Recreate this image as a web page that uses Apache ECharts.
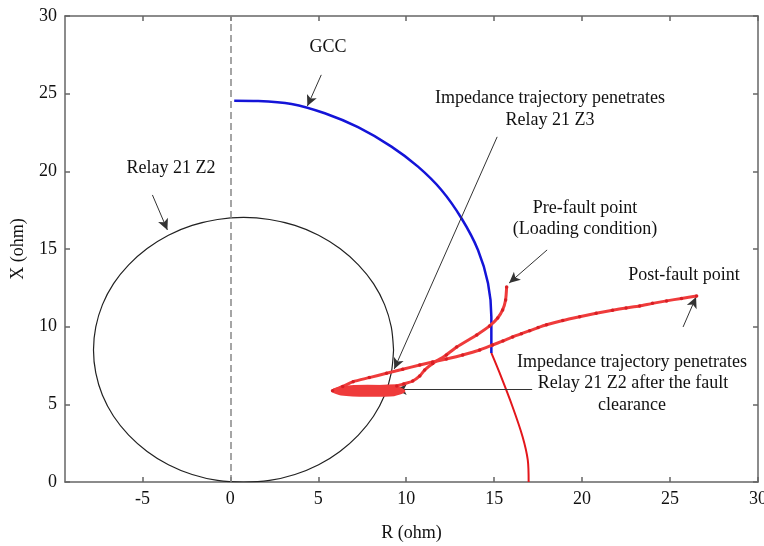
<!DOCTYPE html>
<html>
<head>
<meta charset="utf-8">
<script src="https://cdn.jsdelivr.net/npm/echarts@6/dist/echarts.min.js"></script>
<style>
html,body{margin:0;padding:0;background:#fff;}
#chart{width:764px;height:546px;}
</style>
</head>
<body>
<div id="chart"></div>
<script>
// ---- data (R, X in ohm) ----
const xTicks = [-5, 0, 5, 10, 15, 20, 25, 30];
const yTicks = [0, 5, 10, 15, 20, 25, 30];

// Relay 21 Z2 mho circle
const relayZ2 = [
  [9.28, 8.50], [9.15, 9.98], [8.77, 11.42], [8.14, 12.77], [7.28, 13.98], [6.23, 15.03],
  [5.02, 15.89], [3.67, 16.52], [2.23, 16.90], [0.75, 17.03], [-0.73, 16.90], [-2.17, 16.52],
  [-3.52, 15.89], [-4.73, 15.03], [-5.78, 13.98], [-6.64, 12.77], [-7.27, 11.42], [-7.65, 9.98],
  [-7.78, 8.50], [-7.65, 7.02], [-7.27, 5.58], [-6.64, 4.23], [-5.78, 3.02], [-4.73, 1.97],
  [-3.52, 1.11], [-2.17, 0.48], [-0.73, 0.10], [0.75, 0.00], [2.23, 0.10], [3.67, 0.48],
  [5.02, 1.11], [6.23, 1.97], [7.28, 3.02], [8.14, 4.23], [8.77, 5.58], [9.15, 7.02], [9.28, 8.50]
];

// GCC (blue part)
const gccBlue = [
  [0.22, 24.55], [1.58, 24.53], [3.48, 24.34], [5.37, 23.74], [7.26, 22.84], [9.16, 21.59],
  [10.67, 20.30], [12.00, 18.80], [13.14, 16.98], [14.08, 14.94], [14.65, 12.79], [14.84, 10.64],
  [14.84, 8.93], [14.84, 8.31]
];

// GCC continuation (red part)
const gccRed = [
  [14.84, 8.31], [15.31, 7.02], [16.05, 4.83], [16.62, 2.90], [16.91, 1.42], [16.96, 0.00]
];

// Impedance trajectory, part 1: from pre-fault point down into the swing
const preFaultPath = [
  [15.71, 12.56], [15.65, 11.72], [15.48, 11.08], [15.20, 10.56], [14.74, 10.05], [14.01, 9.47],
  [12.87, 8.69], [12.28, 8.18], [11.51, 7.63], [11.05, 7.21], [10.77, 6.83], [10.37, 6.50],
  [9.86, 6.31], [9.46, 6.18]
];

// part 2: swing loops inside Relay 21 Z2
const swingLoops = [
  [9.46, 6.18], [8.50, 6.14], [7.20, 6.10], [6.20, 6.00], [5.85, 5.88], [6.30, 5.68], [7.80, 5.60],
  [9.30, 5.64], [9.85, 5.86], [9.30, 6.10], [7.80, 6.15], [6.40, 6.07], [5.90, 5.88],
  [6.50, 5.72], [7.80, 5.66], [9.20, 5.70], [9.75, 5.88], [9.20, 6.05], [7.80, 6.10],
  [6.60, 6.02], [6.00, 5.88], [6.60, 5.76], [7.80, 5.72], [9.10, 5.76], [9.65, 5.88],
  [9.10, 6.00], [7.80, 6.04], [6.70, 5.98], [6.10, 5.89], [6.70, 5.82], [7.80, 5.80],
  [9.00, 5.82], [9.55, 5.88], [9.00, 5.95], [7.80, 5.97], [6.50, 5.94], [5.81, 5.88]
];

// part 3: after fault clearance out to the post-fault point
const postFaultPath = [
  [5.81, 5.88], [6.39, 6.15], [6.98, 6.46], [7.90, 6.72], [8.88, 7.00], [9.80, 7.26], [10.77, 7.53],
  [11.50, 7.72], [12.28, 7.92], [13.21, 8.18], [14.18, 8.50], [14.91, 8.82], [15.50, 9.08],
  [16.05, 9.34], [16.55, 9.55], [17.02, 9.74], [17.50, 9.94], [17.98, 10.12], [18.90, 10.40],
  [19.86, 10.64], [20.80, 10.86], [21.73, 11.06], [22.50, 11.20], [23.27, 11.33], [24.00, 11.50],
  [24.80, 11.66], [25.65, 11.82], [26.51, 11.98]
];

// annotation arrows [from, to] in data units
const arrows = [
  [[5.17, 26.21], [4.38, 24.20]],
  [[-4.43, 18.48], [-3.58, 16.23]],
  [[15.17, 22.22], [9.32, 7.28]],
  [[18.01, 14.94], [15.85, 12.81]],
  [[25.74, 9.98], [26.48, 11.91]],
  [[17.16, 5.95], [9.40, 5.95]]
];

const FONT = '"Liberation Serif", "Times New Roman", serif';
const chart = echarts.init(document.getElementById('chart'));

function txt(text, x, y) {
  return {
    type: 'text', x: x, y: y, z: 100,
    style: { text: text, font: '18px ' + FONT, fill: '#111', textAlign: 'center', textVerticalAlign: 'middle' }
  };
}

const axisLineStyle = { color: '#666', width: 1.5 };
const RED_LINE = '#ef3b3b';
const RED_DOT = '#d81e24';

function redPath(name, data, width, dots) {
  return {
    name: name, type: 'line', data: data, smooth: 0.2,
    showSymbol: dots, symbol: 'circle', symbolSize: 3.5,
    itemStyle: { color: RED_DOT },
    lineStyle: { color: RED_LINE, width: width }, z: 5
  };
}

const postSeries = redPath('Post-fault path', postFaultPath, 3, true);
postSeries.markLine = {
  silent: true, symbol: ['none', 'arrow'], symbolSize: [8, 11],
  label: { show: false },
  lineStyle: { color: '#333', type: 'solid', width: 1 },
  data: arrows.map(function (a) { return [{ coord: a[0] }, { coord: a[1] }]; })
};

chart.setOption({
  animation: false,
  backgroundColor: '#fff',
  grid: { left: 65, right: 6, top: 16, bottom: 64, outerBoundsMode: 'none', containLabel: false },
  xAxis: [{
    type: 'value', min: -9.4, max: 30,
    name: 'R (ohm)', nameLocation: 'middle', nameGap: 42,
    nameTextStyle: { fontFamily: FONT, fontSize: 18, color: '#111' },
    axisLine: { show: true, onZero: false, lineStyle: axisLineStyle },
    axisTick: { show: true, inside: true, length: 5, customValues: xTicks, lineStyle: axisLineStyle },
    axisLabel: { customValues: xTicks, fontFamily: FONT, fontSize: 18, color: '#111', margin: 8, hideOverlap: false },
    splitLine: { show: false }
  }, {
    type: 'value', position: 'top', min: -9.4, max: 30,
    axisLine: { show: true, onZero: false, lineStyle: axisLineStyle },
    axisTick: { show: true, inside: true, length: 5, customValues: xTicks, lineStyle: axisLineStyle },
    axisLabel: { show: false },
    splitLine: { show: false }
  }],
  yAxis: [{
    type: 'value', min: 0, max: 30, interval: 5,
    name: 'X (ohm)', nameLocation: 'middle', nameGap: 38, nameRotate: 90,
    nameTextStyle: { fontFamily: FONT, fontSize: 18, color: '#111' },
    axisLine: { show: true, onZero: false, lineStyle: axisLineStyle },
    axisTick: { show: true, inside: true, length: 5, lineStyle: axisLineStyle },
    axisLabel: { fontFamily: FONT, fontSize: 18, color: '#111', margin: 8,
      formatter: function (v) { return yTicks.indexOf(v) >= 0 ? String(v) : ''; } },
    splitLine: { show: false }
  }, {
    type: 'value', position: 'right', min: 0, max: 30, interval: 5,
    axisLine: { show: true, onZero: false, lineStyle: axisLineStyle },
    axisTick: { show: true, inside: true, length: 5, lineStyle: axisLineStyle },
    axisLabel: { show: false },
    splitLine: { show: false }
  }],
  series: [
    {
      name: 'Relay 21 Z2', type: 'line', data: relayZ2, smooth: 0.3,
      showSymbol: false, lineStyle: { color: '#222', width: 1.2 }, z: 2,
      markLine: {
        silent: true, symbol: ['none', 'none'], label: { show: false },
        lineStyle: { color: '#888', type: [7, 4], width: 1.5 },
        data: [{ xAxis: 0 }]
      }
    },
    {
      name: 'GCC', type: 'line', data: gccBlue, smooth: 0.35,
      showSymbol: false, lineStyle: { color: '#1414d8', width: 2.5 }, z: 4
    },
    {
      name: 'GCC red', type: 'line', data: gccRed, smooth: 0.3,
      showSymbol: false, lineStyle: { color: '#e3161b', width: 2 }, z: 3
    },
    redPath('Pre-fault path', preFaultPath, 3, true),
    redPath('Swing loops', swingLoops, 3.5, false),
    postSeries
  ],
  graphic: [
    txt('GCC', 328, 47),
    txt('Relay 21 Z2', 171, 168),
    txt('Impedance trajectory penetrates', 550, 98),
    txt('Relay 21 Z3', 550, 120),
    txt('Pre-fault point', 585, 208),
    txt('(Loading condition)', 585, 229),
    txt('Post-fault point', 684, 275),
    txt('Impedance trajectory penetrates', 632, 362),
    txt('Relay 21 Z2 after the fault', 633, 383),
    txt('clearance', 632, 405)
  ]
});
</script>
</body>
</html>
